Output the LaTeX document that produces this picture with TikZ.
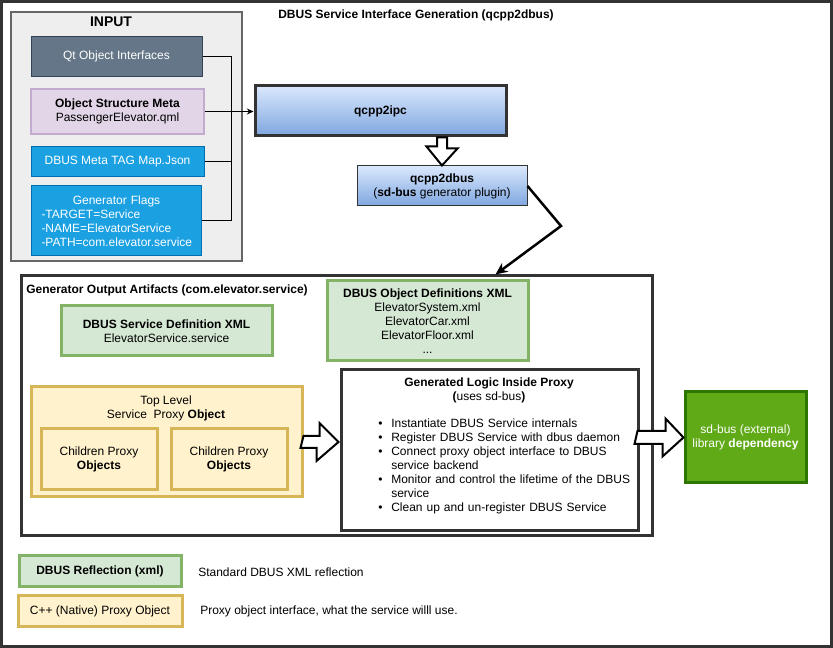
\documentclass[tikz,border=0pt]{standalone}
\usepackage{fontspec}
\setmainfont{Liberation Sans}
\usetikzlibrary{calc}
\usetikzlibrary{arrows.meta}
\usetikzlibrary{positioning}
\newlength\dpx
\setlength\dpx{0.75pt}
\definecolor{darkline}{HTML}{333333}
\definecolor{inputfill}{HTML}{EEEEEE}
\definecolor{inputline}{HTML}{666666}
\definecolor{qtfill}{HTML}{647687}
\definecolor{qtline}{HTML}{314354}
\definecolor{metafill}{HTML}{E1D5E7}
\definecolor{metaline}{HTML}{C3ABD0}
\definecolor{jsonfill}{HTML}{1BA1E2}
\definecolor{jsonline}{HTML}{006EAF}
\definecolor{toolhi}{HTML}{DAE8FC}
\definecolor{toollo}{HTML}{7EA6E0}
\definecolor{xmlfill}{HTML}{D5E8D4}
\definecolor{xmlline}{HTML}{82B366}
\definecolor{proxyfill}{HTML}{FFF2CC}
\definecolor{proxyline}{HTML}{D6B656}
\definecolor{libfill}{HTML}{60A917}
\definecolor{libline}{HTML}{2D7600}
\tikzset{every node/.style={font=\fontsize{9}{10.5}\selectfont,inner sep=0pt}}
\tikzset{size/.style 2 args={minimum width=#1\dpx,minimum height=#2\dpx}}
\tikzset{inbox/.style={rectangle,draw=inputline,fill=inputfill,line width=2\dpx}}
\tikzset{qtbox/.style={rectangle,draw=qtline,fill=qtfill,text=white,line width=1\dpx}}
\tikzset{metabox/.style={rectangle,draw=metaline,fill=metafill,line width=1.5\dpx,align=center}}
\tikzset{jsonbox/.style={rectangle,draw=jsonline,fill=jsonfill,text=white,line width=1\dpx}}
\tikzset{tool/.style={rectangle,draw=darkline,top color=toolhi,bottom color=toollo,align=center}}
\tikzset{xmlbox/.style={rectangle,draw=xmlline,fill=xmlfill,line width=3\dpx,align=center}}
\tikzset{proxy/.style={rectangle,draw=proxyline,fill=proxyfill,line width=3\dpx,align=center}}
\tikzset{frame/.style={rectangle,draw=darkline,fill=white,line width=3\dpx}}
\tikzset{libbox/.style={rectangle,draw=libline,fill=libfill,text=white,line width=3\dpx,align=center}}
\tikzset{hollow/.style={draw=black,fill=white,line width=2\dpx,line join=miter}}
\tikzset{feed/.style={draw=black,line width=1\dpx}}
\newcommand{\bulletline}[1]{\par\noindent\hangindent=14\dpx\hangafter=1\makebox[14\dpx][l]{\hspace{1\dpx}\textbullet}#1}

\begin{document}
\begin{tikzpicture}[x=0.75pt,y=-0.75pt]

\useasboundingbox (0,0) rectangle (833,648);
\draw[line width=3\dpx,draw=darkline,fill=white] (1.5,1.5) rectangle (831.5,646.5);

\node (title) at (416,15) {\textbf{DBUS Service Interface Generation (qcpp2dbus)}};

% inputs
\node[inbox,size={231}{249}] (input) at (126.5,136.5) {};
\node[font=\fontsize{10.5}{12}\selectfont\bfseries] (inputlabel) at (111,22) {INPUT};
\node[qtbox,size={171}{40}] (qt) at (116.5,56.5) {Qt Object Interfaces};
\node[metabox,size={173}{45}] (meta) at (117.5,111.5) {\textbf{Object Structure Meta}\\PassengerElevator.qml};
\node[jsonbox,size={173}{30}] (json) at (117.5,161.5) {DBUS Meta TAG Map.Json};
\node[jsonbox,size={170}{70},text width=150\dpx,align=left] (flags) at (116.5,221)
  {\makebox[\linewidth]{Generator Flags}\\\mbox{-TARGET=Service}\\\mbox{-NAME=ElevatorService}\\\mbox{-PATH=com.elevator.service}};

% generators
\node[tool,line width=3\dpx,size={251}{50}] (ipc) at (380.5,111) {\textbf{qcpp2ipc}};
\node[tool,line width=1\dpx,size={170}{40}] (qdbus) at (442,186) {\textbf{qcpp2dbus}\\(\textbf{sd-bus} generator plugin)};

\coordinate (bus) at (231,111);
\draw[feed] (qt.east) -| (bus);
\draw[feed] (json.east) -| (bus);
\draw[feed] (flags.east) -| (bus);
\draw[feed,-{Stealth[length=5pt,width=4.5pt]}] (meta.east) -- (meta.east -| ipc.west);

\draw[hollow] (ipc.south -| qdbus.north) ++(-5,0) -- ++(10,0) -- ++(0,11) -- ++(10.5,0)
  -- (qdbus.north) -- ++(-15.5,-19) -- ++(10.5,0) -- cycle;

% outputs
\node[frame,size={631}{260}] (out) at (336.5,406) {};
\node[anchor=west] (outlabel) at (26,290) {\textbf{Generator Output Artifacts (com.elevator.service)}};

\coordinate (bend) at (561,226);
\draw[line width=2.5\dpx,-{Stealth[length=9pt,width=8pt]}] (qdbus.east) -- (bend) -- ($(out.north west)+(476,0)$);

\node[xmlbox,size={211}{50}] (servicexml) at (166.5,331) {\textbf{DBUS Service Definition XML}\\ElevatorService.service};
\node[xmlbox,size={201}{80}] (objectxml) at (427.5,321)
  {\textbf{DBUS Object Definitions XML}\\ElevatorSystem.xml\\ElevatorCar.xml\\ElevatorFloor.xml\\...};

\node[proxy,size={271}{110}] (top) at (166.5,442) {};
\node[align=center] (toplabel) at (166,408) {Top Level\\Service\ \ Proxy \textbf{Object}};
\node[proxy,size={116}{61}] (child1) at (99,459.5) {Children Proxy\\\textbf{Objects}};
\node[proxy,size={116}{61}] (child2) at (229,459.5) {Children Proxy\\\textbf{Objects}};

\node[frame,size={297}{161}] (logic) at (489.5,450.5) {};
\node[align=center] (logiclabel) at (489,390) {\textbf{Generated Logic Inside Proxy}\\\textbf{(}uses sd-bus\textbf{)}};
\node[anchor=north west,text width=256\dpx,align=left] (logiclist) at (377,413)
  {\hyphenpenalty=10000\exhyphenpenalty=10000
   \bulletline{Instantiate DBUS Service internals}
   \bulletline{Register DBUS Service with dbus daemon}
   \bulletline{Connect proxy object interface to DBUS service backend}
   \bulletline{Monitor and control the lifetime of the DBUS service}
   \bulletline{Clean up and un-register DBUS Service}};

\draw[hollow] (top.east) ++(0,-6) -- ++(16,0) -- ++(0,-13) -- ($(top.east -| logic.west)+(-1,0)$)
  -- ++(-22,19) -- ++(0,-13) -- ++(-16,0) -- cycle;

\node[libbox,size={121}{91}] (sdbus) at (745.5,437.5) {sd-bus (external)\\library \textbf{dependency}};

\draw[hollow] (logic.east |- sdbus.west) ++(-2,-6.5) -- ++(28,0) -- ++(0,-12.5) -- (sdbus.west)
  -- ++(-21,19) -- ++(0,-12.5) -- ++(-28,0) -- cycle;

% legend
\node[xmlbox,size={162}{31}] (legxml) at (100,571.5) {\textbf{DBUS Reflection (xml)}};
\node[anchor=west] (legxmltext) at (198,572) {Standard DBUS XML reflection};
\node[proxy,size={164}{31}] (legproxy) at (100,611.5) {\raisebox{2\dpx}{C++ (Native) Proxy Object}};
\node[anchor=west] (legproxytext) at (200,611) {Proxy object interface, what the service willl use.};

\end{tikzpicture}
\end{document}
